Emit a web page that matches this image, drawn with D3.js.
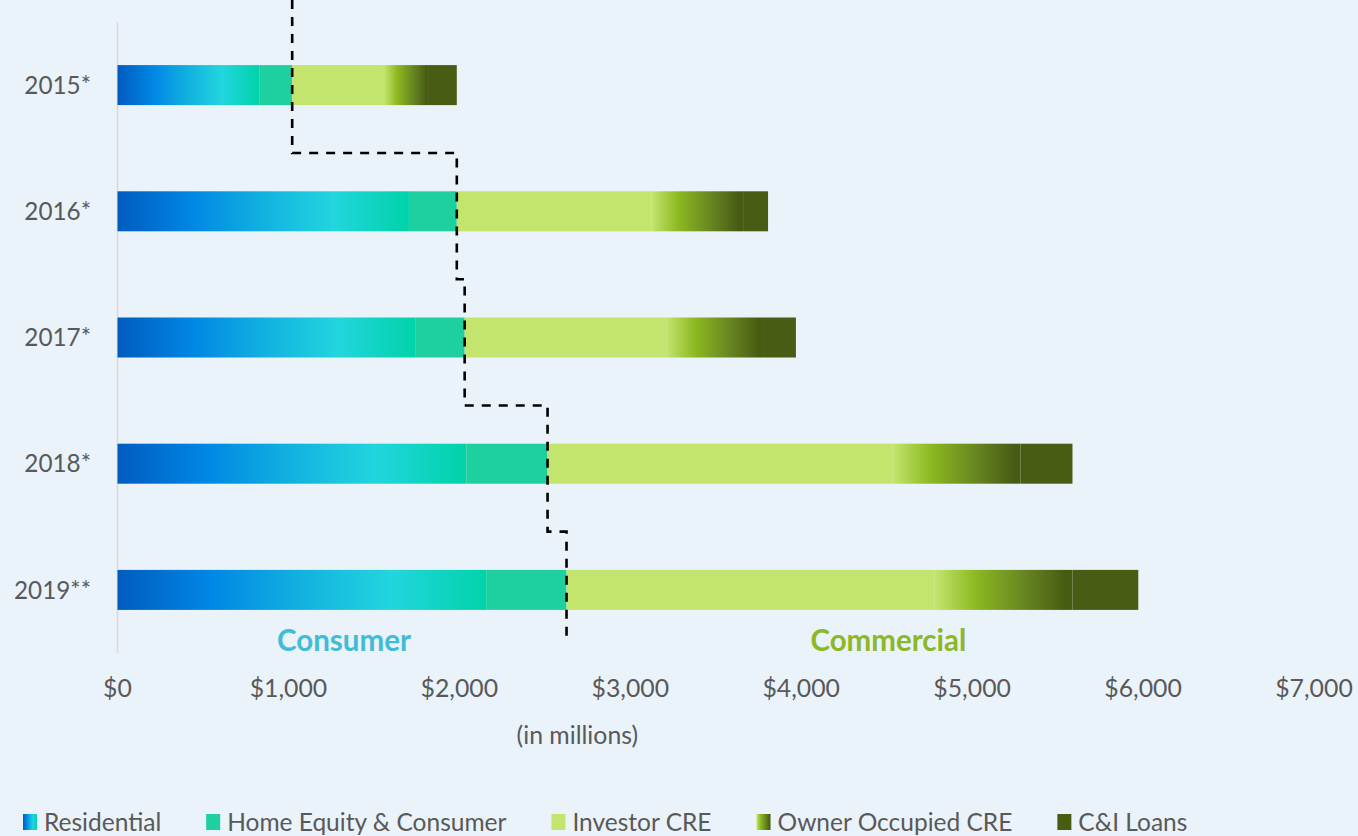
<!DOCTYPE html>
<html lang="en">

<head>
    <meta charset="UTF-8">
    <title>Loan Portfolio</title>
    <style>
    body {
        margin: 0;
        background: #eaf2fa;
        overflow: hidden;
    }

    text {
        font-family: Lato, "Open Sans", sans-serif;
        fill: #595959;
    }
    </style>
</head>

<body>
    <svg id="chart" width="1358" height="836"></svg>
    <script src="https://d3js.org/d3.v7.min.js"></script>
    <script>
    // values in $ millions
    const years = ["2015*", "2016*", "2017*", "2018*", "2019**"];
    const residential = [829, 1705, 1745, 2041, 2160];
    const homeEquity = [193, 280, 286, 475, 467];
    const investorCre = [537, 1138, 1179, 2020, 2154];
    const ownerOccupied = [263, 537, 572, 747, 806];
    const ciLoans = [163, 146, 187, 304, 385];
    const xTicks = [0, 1000, 2000, 3000, 4000, 5000, 6000, 7000];
    const seriesNames = ["Residential", "Home Equity & Consumer", "Investor CRE", "Owner Occupied CRE", "C&I Loans"];

    const fills = ["url(#resGrad)", "#1ecfa0", "#c3e56e", "url(#ownGrad)", "#485c14"];

    const svg = d3.select("#chart");

    const x = d3.scaleLinear().domain([0, 7000]).range([117.5, 1314]);
    const y = d3.scaleBand().domain(years).range([22, 653]).paddingInner(0.683).paddingOuter(0.3415);

    // gradients
    const defs = svg.append("defs");
    const resGrad = defs.append("linearGradient").attr("id", "resGrad");
    [[0, "#005cbf"], [0.25, "#0086e4"], [0.5, "#12b2e0"], [0.74, "#22d5de"], [1, "#00d3a9"]]
        .forEach(s => resGrad.append("stop").attr("offset", s[0]).attr("stop-color", s[1]));
    const ownGrad = defs.append("linearGradient").attr("id", "ownGrad");
    [[0, "#c3e56e"], [0.3, "#8cb820"], [0.62, "#6a8a22"], [0.95, "#475c13"], [1, "#475c13"]]
        .forEach(s => ownGrad.append("stop").attr("offset", s[0]).attr("stop-color", s[1]));

    // y axis line
    svg.append("line")
        .attr("x1", x(0)).attr("x2", x(0))
        .attr("y1", y.range()[0]).attr("y2", y.range()[1])
        .attr("stroke", "#d9d9d9").attr("stroke-width", 1.5);

    // stacked bars
    const rows = years.map((yr, i) => ({
        year: yr,
        vals: [residential[i], homeEquity[i], investorCre[i], ownerOccupied[i], ciLoans[i]]
    }));

    rows.forEach(r => {
        let acc = 0;
        r.vals.forEach((v, k) => {
            svg.append("rect")
                .attr("x", x(acc))
                .attr("y", y(r.year))
                .attr("width", x(acc + v) - x(acc))
                .attr("height", y.bandwidth())
                .attr("fill", fills[k]);
            acc += v;
        });
    });

    // year labels
    svg.selectAll(".yl").data(years).enter().append("text")
        .attr("x", 91)
        .attr("y", d => y(d) + y.bandwidth() / 2)
        .attr("dy", "0.36em")
        .attr("text-anchor", "end")
        .style("font-size", "24.3px")
        .text(d => d);

    // x tick labels
    svg.selectAll(".xt").data(xTicks).enter().append("text")
        .attr("x", d => x(d))
        .attr("y", 688)
        .attr("dy", "0.36em")
        .attr("text-anchor", "middle")
        .style("font-size", "24.8px")
        .text(d => "$" + d3.format(",")(d));

    svg.append("text")
        .attr("x", x(2690)).attr("y", 735).attr("dy", "0.36em")
        .attr("text-anchor", "middle")
        .style("font-size", "24.8px")
        .text("(in millions)");

    // consumer / commercial divider (step line)
    const step = y.step();
    const consumer = years.map((d, i) => residential[i] + homeEquity[i]);
    const pts = [];
    years.forEach((d, i) => {
        const top = i === 0 ? 0 : y(years[i - 1]) + y.bandwidth() + 0.38 * step;
        const bot = i === years.length - 1 ? y(d) + y.bandwidth() + 27 : y(d) + y.bandwidth() + 0.38 * step;
        pts.push([x(consumer[i]), top], [x(consumer[i]), bot]);
    });
    svg.append("path")
        .attr("d", d3.line()(pts))
        .attr("fill", "none")
        .attr("stroke", "#000")
        .attr("stroke-width", 2.6)
        .attr("stroke-dasharray", "9,8");

    svg.append("text")
        .attr("x", x(1325)).attr("y", 640).attr("dy", "0.36em")
        .attr("text-anchor", "middle")
        .style("font-size", "29.5px").style("font-weight", "bold")
        .style("fill", "#40bcd6")
        .text("Consumer");
    svg.append("text")
        .attr("x", x(4510)).attr("y", 640).attr("dy", "0.36em")
        .attr("text-anchor", "middle")
        .style("font-size", "29.5px").style("font-weight", "bold")
        .style("fill", "#8cb828")
        .text("Commercial");

    // legend
    const legend = svg.append("g");
    let lx = 23;
    seriesNames.forEach((name, k) => {
        legend.append("rect")
            .attr("x", lx).attr("y", 814)
            .attr("width", 14).attr("height", 16)
            .attr("fill", fills[k]);
        const t = legend.append("text")
            .attr("x", lx + 21).attr("y", 822).attr("dy", "0.36em")
            .style("font-size", "24.5px")
            .text(name);
        lx += 21 + t.node().getComputedTextLength() + 45;
    });
    </script>
</body>

</html>
